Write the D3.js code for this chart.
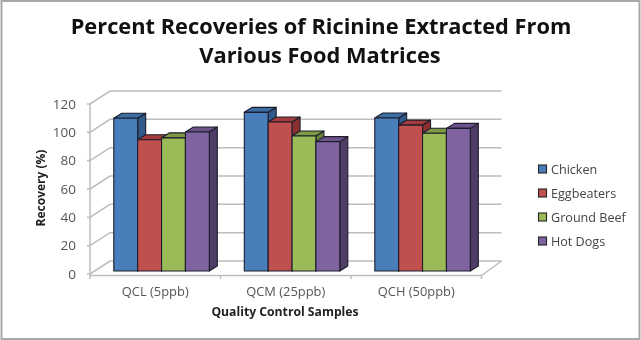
<!DOCTYPE html>
<html><head><meta charset="utf-8">
<script src="https://cdnjs.cloudflare.com/ajax/libs/d3/7.8.5/d3.min.js"></script>
<style>html,body{margin:0;padding:0;background:#fff}svg{display:block;filter:blur(0.4px)}text{font-family:"Open Sans",sans-serif}</style>
</head><body><svg id="c" width="641" height="340"></svg>
<script>
const categories = ["QCL (5ppb)", "QCM (25ppb)", "QCH (50ppb)"];
const seriesNames = ["Chicken", "Eggbeaters", "Ground Beef", "Hot Dogs"];
const chicken = [107.8, 112, 108];
const eggbeaters = [92.7, 105.2, 103];
const groundBeef = [94, 95.3, 97.2];
const hotDogs = [98.1, 91.3, 100.7];
const yTicks = [0, 20, 40, 60, 80, 100, 120];
const seriesValues = [chicken, eggbeaters, groundBeef, hotDogs];
const fronts = ["#4a7ebb", "#c0504d", "#9bbb59", "#8064a2"];
const tops = ["#3a6ea5", "#a33c3a", "#7f9a45", "#6b5289"];
const sides = ["#2f5a8a", "#8a3030", "#6a8238", "#4f3d68"];

const svg = d3.select("#c");
svg.append("rect").attr("x",1.5).attr("y",1).attr("width",638).attr("height",338)
  .attr("fill","#fff").attr("stroke","#a8a8a8").attr("stroke-width",2);

const yFront = d3.scaleLinear().domain([0,120]).range([274,104]);
const x0 = d3.scaleBand().domain(categories).range([90,481.5]);
const wallDx = 20, wallDy = 13, barDx = 8, barDy = 5, barBase = -3;
const grid = "#bdbdbd";

// walls and floor
const g = svg.append("g").attr("fill","none").attr("stroke",grid).attr("stroke-width",1.5);
yTicks.forEach(t=>{
  const y=yFront(t);
  g.append("path").attr("d",d3.line()([[90,y],[90+wallDx,y-wallDy],[501.5,y-wallDy]]));
});
g.append("path").attr("d",d3.line()([[90,yFront(0)+1.5],[90,yFront(120)]]));
g.append("path").attr("d",d3.line()([[90,yFront(0)+1.5],[481.5,yFront(0)+1.5],[501.5,yFront(0)-wallDy]]));
categories.concat(["end"]).forEach(c=>{
  const x = c==="end"?481.5:x0(c);
  g.append("line").attr("x1",x).attr("x2",x).attr("y1",yFront(0)+1).attr("y2",yFront(0)+5);
});
yTicks.forEach(t=>{
  g.append("line").attr("x1",87).attr("x2",90).attr("y1",yFront(t)).attr("y2",yFront(t));
});

// y axis labels via d3 axis
const yAxis = svg.append("g").attr("transform","translate(90,0)")
  .call(d3.axisLeft(yFront).tickValues(yTicks).tickSize(0).tickPadding(14));
yAxis.select(".domain").remove();
yAxis.selectAll("text").attr("font-size",13.5).attr("fill","#555");

// x axis labels
const xAxis = svg.append("g").attr("transform","translate(0,278)")
  .call(d3.axisBottom(x0).tickSize(0).tickPadding(9));
xAxis.select(".domain").remove();
xAxis.selectAll("text").attr("font-size",12.9).attr("fill","#555");

// bars
const innerBand = d3.scaleBand().domain(seriesNames).range([0,95.5]);
const bh = v=>yFront(0)-yFront(v);
const bars = svg.append("g").attr("stroke","#1c1c2c").attr("stroke-width",1.1).attr("stroke-linejoin","round");
const order = [];
categories.forEach((c,ci)=>seriesNames.forEach((s,si)=>order.push({c,ci,s,si,v:seriesValues[si][ci]})));
order.forEach(d=>{
  const x = x0(d.c)+23.8+innerBand(d.s), w = innerBand.bandwidth();
  const yb = yFront(0)+barBase, yt = yb-bh(d.v);
  const gg = bars.append("g");
  gg.append("path").attr("fill",sides[d.si]).attr("d",d3.line()([[x+w,yt],[x+w+barDx,yt-barDy],[x+w+barDx,yb-barDy],[x+w,yb]])+"Z");
  gg.append("path").attr("fill",tops[d.si]).attr("d",d3.line()([[x,yt],[x+barDx,yt-barDy],[x+w+barDx,yt-barDy],[x+w,yt]])+"Z");
  gg.append("rect").attr("x",x).attr("y",yt).attr("width",w).attr("height",yb-yt).attr("fill",fronts[d.si]);
});

// titles
svg.append("text").attr("x",321).attr("y",34).attr("text-anchor","middle").attr("font-size",21.8).attr("font-weight",700).attr("fill","#111").text("Percent Recoveries of Ricinine Extracted From");
svg.append("text").attr("x",320).attr("y",63).attr("text-anchor","middle").attr("font-size",21.8).attr("font-weight",700).attr("fill","#111").text("Various Food Matrices");
svg.append("text").attr("x",285).attr("y",316).attr("text-anchor","middle").attr("font-size",12.2).attr("font-weight",700).attr("fill","#222").text("Quality Control Samples");
svg.append("text").attr("transform","translate(45,188) rotate(-90)").attr("text-anchor","middle").attr("font-size",12).attr("font-weight",700).attr("fill","#222").text("Recovery (%)");

// legend
const legY = d3.scalePoint().domain(seriesNames).range([169,241]);
const leg = svg.append("g");
seriesNames.forEach((s,i)=>{
  leg.append("rect").attr("x",538.5).attr("y",legY(s)-4).attr("width",8).attr("height",8).attr("fill",fronts[i]).attr("stroke","#222").attr("stroke-width",1.1);
  leg.append("text").attr("x",551).attr("y",legY(s)+4.5).attr("font-size",12.6).attr("fill","#444").text(s);
});
</script></body></html>
